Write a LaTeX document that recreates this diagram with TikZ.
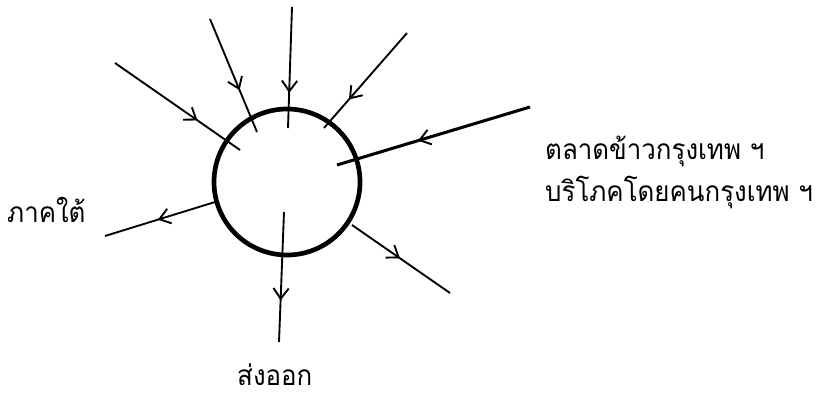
\documentclass[tikz,border=0pt]{standalone}
\usepackage{fontspec}
\newfontfamily\thaifont[Script=Thai,FakeStretch=0.92]{Loma}
\usetikzlibrary{arrows.meta,decorations.markings}
\tikzset{
	flow/.style={line width=1.6pt, postaction={decorate},
		decoration={markings, mark=at position #1 with {\arrow{Straight Barb[length=9pt,width=13pt,line width=1.6pt]}}}},
	label/.style={font=\thaifont\fontsize{24}{29}\selectfont, inner sep=0pt}
}
\begin{document}
\begin{tikzpicture}[x=0.03cm, y=-0.03cm]
		\useasboundingbox (0,0) rectangle (827,396);

		\node[draw, circle, line width=4pt, minimum size=146*0.03cm] (c) at (287,182) {};

		% free ends outside
		\coordinate (o1) at (115,63);
		\coordinate (o2) at (210,19);
		\coordinate (o3) at (292,7);
		\coordinate (o4) at (407,33);
		\coordinate (o5) at (530,107);
		\coordinate (o6) at (105,236);
		\coordinate (o7) at (279,342);
		\coordinate (o8) at (450,293);

		% ends at or inside the circle
		\coordinate (i1) at (240,150);
		\coordinate (i2) at (257,132);
		\coordinate (i3) at (288,128);
		\coordinate (i4) at (324,128);
		\coordinate (i5) at (337,165);
		\coordinate (i6) at (215,202);
		\coordinate (i7) at (284,212);
		\coordinate (i8) at (352,225);

		\draw[flow=0.66] (o1) -- (i1);
		\draw[flow=0.63] (o2) -- (i2);
		\draw[flow=0.71] (o3) -- (i3);
		\draw[flow=0.70] (o4) -- (i4);
		\draw[flow=0.58, line width=2.6pt] (o5) -- (i5);
		\draw[flow=0.52] (i6) -- (o6);
		\draw[flow=0.68] (i7) -- (o7);
		\draw[flow=0.49] (i8) -- (o8);

		\node[label, anchor=base west] (bkk) at (545,160) {ตลาดข้าวกรุงเทพ ฯ};
		\node[label, anchor=base west] (use) at (545,202) {บริโภคโดยคนกรุงเทพ ฯ};
		\node[label, anchor=base west] (south) at (7,222) {ภาคใต้};
		\node[label, anchor=base west] (export) at (237,385) {ส่งออก};

	\end{tikzpicture}
\end{document}
